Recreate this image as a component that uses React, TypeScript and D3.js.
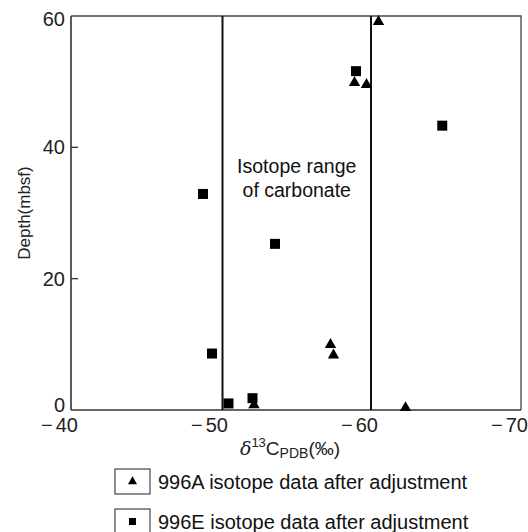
import React from 'react';
import * as d3 from 'd3';

// delta13C (per mil) and depth (mbsf)
const siteA_d13C = [-60.5, -58.9, -59.7, -57.3, -57.5, -62.3, -52.2];
const siteA_depth = [59.3, 50.0, 49.7, 10.1, 8.5, 0.5, 0.9];
const siteE_d13C = [-59.0, -64.75, -48.8, -53.6, -49.4, -50.5, -52.1];
const siteE_depth = [51.6, 43.3, 32.9, 25.3, 8.6, 1.0, 1.8];

const carbonateRange = [-50.1, -60];
const xTicks = [-40, -50, -60, -70];
const yTicks = [0, 20, 40, 60];
const legendLabels = ['996A isotope data after adjustment', '996E isotope data after adjustment'];

const W = 528;
const H = 532;
const margin = { top: 16, right: 7, bottom: 122, left: 71 };
const font = 'Liberation Sans, Arial, sans-serif';

const App = () => {
  const x = d3.scaleLinear().domain([-40, -70]).range([margin.left, W - margin.right]);
  const y = d3.scaleLinear().domain([0, 60]).range([H - margin.bottom, margin.top]);

  const tri = d3.symbol().type(d3.symbolTriangle).size(56)();
  const sq = d3.symbol().type(d3.symbolSquare).size(100)();

  const x0 = x(-40), x1 = x(-70), y0 = y(0), y1 = y(60);
  const midX = (x(carbonateRange[0]) + x(carbonateRange[1])) / 2;

  return (
    <svg width={W} height={H} style={{ position: 'absolute', left: 0, top: 0 }} fontFamily={font}>
      <rect x={0} y={0} width={W} height={H} fill="white" />
      {/* frame */}
      <path d={`M${x0},${y1}H${x1}V${y0}`} fill="none" stroke="#444" strokeWidth={1.3} />
      <line x1={x0} x2={x0} y1={y1} y2={y0} stroke="#333" strokeWidth={1.6} />
      <line x1={x0} x2={x1} y1={y0} y2={y0} stroke="#333" strokeWidth={1.6} />

      {/* y ticks */}
      {yTicks.map((t) => (
        <g key={t}>
          {t !== 0 && t !== 60 && (
            <line x1={x0} x2={x0 + 7} y1={y(t)} y2={y(t)} stroke="#333" strokeWidth={1.3} />
          )}
          <text
            x={x0 - 6}
            y={y(t) + (t === 0 ? -5 : t === 60 ? 3 : 0)}
            textAnchor="end"
            dominantBaseline="central"
            fontSize={20}
            fill="#222"
          >
            {t}
          </text>
        </g>
      ))}

      {/* x tick labels */}
      {xTicks.map((t) => (
        <text key={t} x={x(t) + 7} y={y0 + 22} textAnchor="end" fontSize={20} fill="#222">
          <tspan>{'\u2212'}</tspan>
          <tspan dx={3}>{Math.abs(t)}</tspan>
        </text>
      ))}

      {/* carbonate range */}
      {carbonateRange.map((v) => (
        <line key={v} x1={x(v)} x2={x(v)} y1={y1} y2={y0} stroke="#111" strokeWidth={2} />
      ))}
      <text x={midX} y={173} textAnchor="middle" fontSize={19.5} fill="#111">
        Isotope range
      </text>
      <text x={midX} y={197} textAnchor="middle" fontSize={19.5} fill="#111">
        of carbonate
      </text>

      {/* points */}
      {siteE_d13C.map((v, i) => (
        <path key={'e' + i} d={sq} transform={`translate(${x(v)},${y(siteE_depth[i])})`} fill="#000" />
      ))}
      {siteA_d13C.map((v, i) => (
        <path key={'a' + i} d={tri} transform={`translate(${x(v)},${y(siteA_depth[i]) + 1})`} fill="#000" />
      ))}

      {/* axis titles */}
      <text x={290} y={455} textAnchor="middle" fontSize={19} fill="#222">
        <tspan fontStyle="italic" fontFamily="DejaVu Serif, serif">δ</tspan>
        <tspan fontSize={13} dy={-8}>13</tspan>
        <tspan dy={8}>C</tspan>
        <tspan fontSize={14} dy={3}>PDB</tspan>
        <tspan dy={-3}>(‰)</tspan>
      </text>
      <text
        transform={`translate(24,${(y0 + y1) / 2}) rotate(-90)`}
        textAnchor="middle"
        dominantBaseline="central"
        fontSize={17}
        fill="#222"
      >
        Depth(mbsf)
      </text>

      {/* legend */}
      {legendLabels.map((lab, i) => {
        const ly = 469 + i * 40;
        return (
          <g key={lab}>
            <rect x={115} y={ly} width={35} height={25} fill="none" stroke="#444" strokeWidth={1.2} />
            <path d={i === 0 ? tri : sq} transform={`translate(132.5,${ly + 12.5}) scale(${i === 0 ? 0.8 : 0.7})`} fill="#000" />
            <text x={158} y={ly + 20} fontSize={20} fill="#111">
              {lab}
            </text>
          </g>
        );
      })}
    </svg>
  );
};

export default App;
